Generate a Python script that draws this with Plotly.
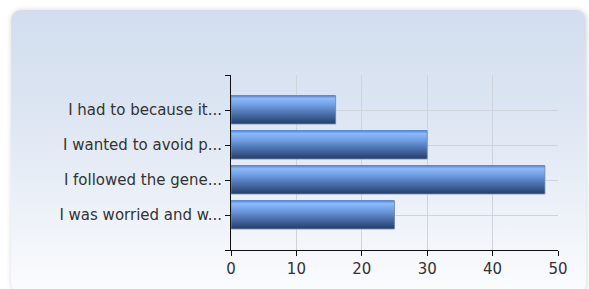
import base64
import plotly.graph_objects as go

# ---- data ----
categories = [
    "I had to because it...",
    "I wanted to avoid p...",
    "I followed the gene...",
    "I was worried and w...",
]
values = [16, 30, 48, 25]
x_ticks = [0, 10, 20, 30, 40, 50]

# bottom-to-top order for the category axis
cat_order = list(reversed(categories))

# ---- bar gradient (top -> bottom) ----
stops = [
    (0.00, (0x3e, 0x86, 0xf4)),
    (0.13, (0x8c, 0xb9, 0xfa)),
    (0.35, (0x72, 0xa0, 0xe4)),
    (0.60, (0x52, 0x7a, 0xb8)),
    (0.82, (0x3a, 0x5c, 0x92)),
    (1.00, (0x25, 0x41, 0x6e)),
]


def col_at(t):
    for (t0, c0), (t1, c1) in zip(stops[:-1], stops[1:]):
        if t0 <= t <= t1:
            f = (t - t0) / (t1 - t0) if t1 > t0 else 0
            return "rgb(%d,%d,%d)" % tuple(round(a + (b - a) * f) for a, b in zip(c0, c1))
    return "rgb(%d,%d,%d)" % stops[-1][1]


bar_w = 0.8
n_strips = 28
h = bar_w / n_strips

fig = go.Figure()
for i in range(n_strips):
    t = (i + 0.5) / n_strips
    fig.add_trace(go.Bar(
        x=values, y=categories, orientation="h",
        width=h * 1.02, offset=bar_w / 2 - (i + 1) * h,
        marker=dict(color=col_at(t), line=dict(width=0)),
        showlegend=False, hoverinfo="skip",
    ))
# outline
fig.add_trace(go.Bar(
    x=values, y=categories, orientation="h",
    width=bar_w,
    marker=dict(color="rgba(0,0,0,0)", line=dict(color="rgba(120,138,170,0.8)", width=1)),
    showlegend=False, hoverinfo="x+y",
))
# invisible trace to activate secondary y axis (edge ticks / top border)
fig.add_trace(go.Scatter(x=[None], y=[None], yaxis="y2", showlegend=False, hoverinfo="skip"))

# ---- panel background (rounded, gradient) ----
svg = """<svg xmlns='http://www.w3.org/2000/svg' width='589' height='289' viewBox='0 0 589 289'>
<defs>
<linearGradient id='g' x1='0' y1='0' x2='0' y2='1'>
<stop offset='0' stop-color='#d2deef'/>
<stop offset='0.35' stop-color='#dce5f2'/>
<stop offset='1' stop-color='#fbfcfe'/>
</linearGradient>
<filter id='s' x='-5%' y='-5%' width='110%' height='110%'><feGaussianBlur stdDeviation='2'/></filter>
</defs>
<rect x='10' y='9' width='578' height='285' rx='11' fill='#000' opacity='0.10' filter='url(#s)'/>
<rect x='11' y='10' width='575' height='283' rx='10' fill='url(#g)'/>
</svg>"""
src = "data:image/svg+xml;base64," + base64.b64encode(svg.encode()).decode()

W, H = 589, 289
L, R, T, B = 231, 31, 75, 39
pw, ph = W - L - R, H - T - B

font = dict(family="DejaVu Sans, Verdana, sans-serif", size=15, color="#333333")

fig.update_layout(
    width=W, height=H,
    margin=dict(l=L, r=R, t=T, b=B, pad=0),
    paper_bgcolor="white",
    plot_bgcolor="rgba(0,0,0,0)",
    barmode="overlay",
    font=font,
    images=[dict(
        source=src, xref="paper", yref="paper",
        x=-L / pw, y=1 + T / ph, sizex=W / pw, sizey=H / ph,
        xanchor="left", yanchor="top", sizing="stretch", layer="below",
    )],
    xaxis=dict(
        range=[0, 50], tickvals=x_ticks, ticks="outside", ticklen=5,
        tickcolor="#111", showline=True, linecolor="#111", linewidth=1,
        showgrid=True, gridcolor="#cfd3db", gridwidth=1, zeroline=False,
        tickfont=dict(size=15, color="#333"), fixedrange=True,
    ),
    yaxis=dict(
        type="category", categoryorder="array", categoryarray=cat_order,
        range=[-1, 4], ticks="outside", ticklen=5, tickcolor="#111",
        showline=True, linecolor="#111", linewidth=1,
        showgrid=True, gridcolor="#cfd3db", gridwidth=1,
        tickfont=dict(size=15, color="#333"), fixedrange=True,
    ),
    yaxis2=dict(
        overlaying="y", side="left", range=[-1, 4], tickvals=[-1, 4],
        ticktext=["", ""], ticks="outside", ticklen=5, tickcolor="#111",
        showgrid=True, gridcolor="#cfd3db", showline=False, zeroline=False,
        fixedrange=True,
    ),
)

fig.write_html(
    "out.html",
    config={"displayModeBar": False},
    post_script="document.body.style.margin='0';document.body.style.overflow='hidden';",
)
